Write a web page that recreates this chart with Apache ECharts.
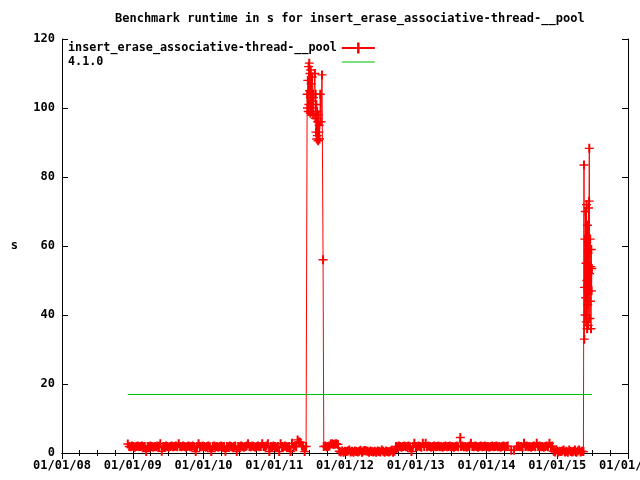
<!DOCTYPE html>
<html>
<head>
<meta charset="utf-8">
<script src="https://cdn.jsdelivr.net/npm/echarts@6/dist/echarts.min.js"></script>
<style>html,body{margin:0;padding:0;background:#fff}#c{width:640px;height:480px}</style>
</head>
<body>
<div id="c"></div>
<script>
// x = decimal year, y = runtime in s
var seriesNames = ['insert_erase_associative-thread-__pool', '4.1.0'];
var yTicks = [0, 20, 40, 60, 80, 100, 120];
var xYears = [2008, 2009, 2010, 2011, 2012, 2013, 2014, 2015, 2016];

var runsA = [
[2008.93,2.6],[2008.95,1.9],[2008.97,1.8],[2008.99,2.0],[2009.01,1.9],[2009.03,1.7],[2009.05,1.9],[2009.07,2.0],
[2009.09,1.8],[2009.11,1.9],[2009.13,2.0],[2009.15,1.8],[2009.17,1.9],[2009.19,0.4],[2009.21,1.9],[2009.23,1.8],
[2009.25,2.0],[2009.27,1.9],[2009.29,1.7],[2009.31,1.9],[2009.33,1.8],[2009.35,2.0],[2009.37,1.9],[2009.39,2.7],
[2009.41,0.5],[2009.43,1.9],[2009.45,1.8],[2009.47,2.0],[2009.49,1.9],[2009.51,1.7],[2009.53,1.9],[2009.55,2.0],
[2009.57,1.8],[2009.59,1.9],[2009.61,2.0],[2009.63,1.8],[2009.65,2.7],[2009.67,1.9],[2009.69,1.8],[2009.71,2.0],
[2009.73,1.9],[2009.75,1.7],[2009.77,1.9],[2009.79,2.0],[2009.81,1.8],[2009.83,1.9],[2009.85,2.0],[2009.87,1.8],
[2009.89,0.4],[2009.91,1.9],[2009.93,2.7],[2009.95,1.9],[2009.97,1.8],[2009.99,2.0],[2010.01,1.9],[2010.03,1.7],
[2010.05,1.9],[2010.07,2.0],[2010.09,1.8],[2010.11,0.4],[2010.13,1.9],[2010.15,2.0],[2010.17,1.8],[2010.19,1.9],
[2010.21,1.7],[2010.23,1.9],[2010.25,2.0],[2010.27,1.8],[2010.29,1.9],[2010.31,0.5],[2010.33,1.9],[2010.35,1.8],
[2010.37,2.0],[2010.39,1.9],[2010.41,1.7],[2010.43,1.9],[2010.45,2.0],[2010.47,0.4],[2010.49,1.9],[2010.51,1.8],
[2010.53,2.0],[2010.55,1.9],[2010.57,1.7],[2010.59,1.9],[2010.61,2.0],[2010.63,2.7],[2010.65,1.9],[2010.67,1.8],
[2010.69,2.0],[2010.71,1.9],[2010.73,1.7],[2010.75,1.9],[2010.77,2.0],[2010.79,1.8],[2010.81,1.9],[2010.83,2.7],
[2010.85,1.9],[2010.87,1.8],[2010.89,2.0],[2010.91,2.7],[2010.93,0.4],[2010.95,1.9],[2010.97,1.8],[2010.99,2.0],
[2011.01,1.9],[2011.03,1.7],[2011.05,1.9],[2011.07,0.4],[2011.09,2.7],[2011.11,1.9],[2011.13,1.8],[2011.15,2.0],
[2011.17,1.9],[2011.19,1.7],[2011.21,1.9],[2011.23,0.4],[2011.25,2.8],[2011.27,1.9],[2011.29,2.0],[2011.31,1.8],
[2011.33,3.8],[2011.35,3.2],[2011.37,3.1],[2011.39,2.0],[2011.41,1.9],[2011.43,0.4],[2011.45,1.9]
];

var runsSpike1 = [
[2011.465,104],[2011.470,100],[2011.475,108],[2011.480,99],[2011.485,112],[2011.490,101],[2011.495,113],
[2011.500,105],[2011.505,110],[2011.510,98.5],[2011.515,111],[2011.520,102],[2011.525,107],[2011.530,99],
[2011.535,109],[2011.540,100],[2011.545,104],[2011.550,98],[2011.555,103],[2011.575,110],[2011.580,97],
[2011.585,104],[2011.590,93],[2011.595,101],[2011.600,91],[2011.605,99],[2011.610,92],[2011.615,96],
[2011.620,90.5],[2011.625,98],[2011.630,93],[2011.635,95],[2011.640,91],[2011.650,104],[2011.660,96],
[2011.675,109.6],[2011.690,56]
];

var runsB = [
[2011.70,1.9],[2011.72,2.0],[2011.74,1.8],[2011.76,1.9],[2011.78,2.0],[2011.80,2.6],[2011.82,2.7],[2011.84,2.5],
[2011.86,2.6],[2011.88,2.7],[2011.90,2.5],[2011.92,0.5],[2011.94,0.3],[2011.96,0.6],[2011.98,0.2],[2012.00,0.5],
[2012.02,0.4],[2012.04,0.6],[2012.06,0.9],[2012.08,0.3],[2012.10,0.5],[2012.12,0.2],[2012.14,0.6],[2012.16,0.4],
[2012.18,0.3],[2012.20,0.5],[2012.22,0.8],[2012.24,0.2],[2012.26,0.6],[2012.28,0.7],[2012.30,0.6],[2012.32,0.5],
[2012.34,0.2],[2012.36,0.6],[2012.38,0.4],[2012.40,0.3],[2012.42,0.5],[2012.44,0.2],[2012.46,0.6],[2012.48,0.4],
[2012.50,0.3],[2012.52,0.9],[2012.54,0.5],[2012.56,0.2],[2012.58,0.6],[2012.60,0.4],[2012.62,0.3],[2012.64,0.5],
[2012.66,0.8],[2012.68,0.2],[2012.70,0.5],[2012.72,1.9],[2012.74,1.8],[2012.76,2.0],[2012.78,1.9],[2012.80,1.7],
[2012.82,1.9],[2012.84,2.0],[2012.86,1.8],[2012.88,1.9],[2012.90,2.0],[2012.92,1.8],[2012.94,0.4],[2012.96,1.9],
[2012.98,2.8],[2013.00,1.9],[2013.02,1.8],[2013.04,2.0],[2013.06,1.9],[2013.08,1.7],[2013.10,2.8],[2013.12,1.9],
[2013.14,2.8],[2013.16,1.8],[2013.18,2.0],[2013.20,1.9],[2013.22,1.7],[2013.24,1.9],[2013.26,2.0],[2013.28,1.8],
[2013.30,1.9],[2013.32,2.0],[2013.34,1.8],[2013.36,1.9],[2013.38,1.7],[2013.40,1.9],[2013.42,2.0],[2013.44,1.8],
[2013.46,1.9],[2013.48,2.0],[2013.50,1.8],[2013.52,1.9],[2013.54,1.7],[2013.56,1.9],[2013.58,2.0],[2013.60,1.8],
[2013.63,4.5],[2013.64,1.9],[2013.66,2.0],[2013.68,1.8],[2013.70,1.9],[2013.72,1.7],[2013.74,1.9],[2013.76,2.0],
[2013.78,2.8],[2013.80,1.9],[2013.82,1.8],[2013.84,2.0],[2013.86,1.9],[2013.88,1.7],[2013.90,1.9],[2013.92,2.0],
[2013.94,1.8],[2013.96,1.9],[2013.98,2.0],[2014.00,1.8],[2014.02,1.9],[2014.04,1.7],[2014.06,1.9],[2014.08,2.0],
[2014.10,1.8],[2014.12,1.9],[2014.14,2.0],[2014.16,1.8],[2014.18,1.9],[2014.20,1.7],[2014.22,1.9],[2014.24,2.0],
[2014.26,1.8],[2014.28,1.9],[2014.30,2.0],[2014.35,0.8],[2014.39,0.8],[2014.43,1.9],[2014.45,2.0],[2014.47,1.8],
[2014.49,1.9],[2014.51,1.7],[2014.53,2.8],[2014.55,1.9],[2014.57,2.0],[2014.59,1.8],[2014.61,1.9],[2014.63,1.7],
[2014.65,1.9],[2014.67,2.0],[2014.69,1.8],[2014.71,2.8],[2014.73,1.9],[2014.75,2.0],[2014.77,1.8],[2014.79,1.9],
[2014.81,1.7],[2014.83,1.9],[2014.85,2.0],[2014.87,1.8],[2014.89,2.8],[2014.91,1.9],[2014.93,2.0],[2014.95,0.5],
[2014.97,0.3],[2014.99,0.9],[2015.01,0.2],[2015.03,0.5],[2015.05,0.4],[2015.07,0.6],[2015.09,0.9],[2015.11,0.3],
[2015.13,0.5],[2015.15,0.2],[2015.17,0.9],[2015.19,0.4],[2015.21,0.3],[2015.23,0.5],[2015.25,0.9],[2015.27,0.2],
[2015.29,0.6],[2015.31,0.9],[2015.33,0.3],[2015.35,0.5],[2015.37,0.4]
];

var runsSpike2 = [
[2015.378,83.5],[2015.382,33],[2015.386,48],[2015.390,62],[2015.394,40],[2015.398,70],[2015.402,45],
[2015.406,55],[2015.410,38],[2015.414,72],[2015.418,50],[2015.422,36],[2015.426,66],[2015.430,43],
[2015.434,58],[2015.438,37],[2015.442,71],[2015.446,47],[2015.450,73],[2015.453,88.3],[2015.457,52],
[2015.461,39],[2015.465,62],[2015.469,44],[2015.473,54],[2015.477,36],[2015.481,59],[2015.485,47],
[2015.489,53.5]
];

var baselineX = [2008.93, 2015.49];
var baselineY = [16.96, 16.96];

var runtime = runsA.concat(runsSpike1, runsB, runsSpike2);
var baseline = baselineX.map(function (x, i) { return [x, baselineY[i]]; });

var FONT = '"DejaVu Sans Mono", "Liberation Mono", monospace';
var PLUS = 'path://M3.5,0h2v9h-2zM0,3.8h9v1.4h-9z';
var xFmt = function (v) { return '01/01/' + String(v % 100).padStart(2, '0'); };
var axisCommon = {
  axisLine: { show: true, lineStyle: { color: '#000', width: 1 } },
  splitLine: { show: false }
};

var chart = echarts.init(document.getElementById('c'), null, { renderer: 'canvas' });
chart.setOption({
  animation: false,
  backgroundColor: '#fff',
  textStyle: { fontFamily: FONT },
  title: {
    text: 'Benchmark runtime in s for insert_erase_associative-thread-__pool',
    left: 110, top: 8,
    textStyle: { fontFamily: FONT, fontWeight: 'bold', fontSize: 12, color: '#000' }
  },
  legend: {
    orient: 'vertical', left: 68, top: 42, padding: 0, itemGap: 2,
    itemWidth: 33, itemHeight: 14, align: 'right', symbolKeepAspect: true,
    data: [{ name: seriesNames[0] }, { name: seriesNames[1], icon: 'path://M0,0h33v1h-33z' }],
    formatter: function (n) { return n.padEnd(38, ' '); },
    textStyle: { fontFamily: FONT, fontWeight: 'bold', fontSize: 11.75, color: '#000' }
  },
  grid: { left: 62, right: 12, top: 39, bottom: 27, outerBoundsMode: 'none' },
  xAxis: [
    Object.assign({
      type: 'value', position: 'bottom', min: xYears[0], max: xYears[xYears.length - 1], interval: 1,
      axisTick: { show: true, inside: true, length: 6, lineStyle: { color: '#000' } },
      minorTick: { show: true, splitNumber: 4, length: 3, lineStyle: { color: '#000' } },
      axisLabel: { formatter: xFmt, margin: 7, color: '#000', fontFamily: FONT, fontWeight: 'bold', fontSize: 12, showMaxLabel: true }
    }, axisCommon),
    Object.assign({
      type: 'value', position: 'top', min: xYears[0], max: xYears[xYears.length - 1], interval: 1,
      axisTick: { show: true, inside: true, length: 6, lineStyle: { color: '#000' } },
      minorTick: { show: true, splitNumber: 4, length: 3, lineStyle: { color: '#000' } },
      axisLabel: { show: false }
    }, axisCommon)
  ],
  yAxis: [
    Object.assign({
      type: 'value', position: 'left', min: yTicks[0], max: yTicks[yTicks.length - 1], interval: 20,
      name: 's', nameLocation: 'middle', nameGap: 44, nameRotate: 0,
      nameTextStyle: { fontFamily: FONT, fontWeight: 'bold', fontSize: 12, color: '#000' },
      axisTick: { show: true, inside: true, length: 6, lineStyle: { color: '#000' } },
      axisLabel: { margin: 7, color: '#000', fontFamily: FONT, fontWeight: 'bold', fontSize: 12 }
    }, axisCommon),
    Object.assign({
      type: 'value', position: 'right', min: yTicks[0], max: yTicks[yTicks.length - 1], interval: 20,
      axisTick: { show: true, inside: true, length: 6, lineStyle: { color: '#000' } },
      axisLabel: { show: false }
    }, axisCommon)
  ],
  series: [
    {
      name: seriesNames[0], type: 'line', xAxisIndex: 0, yAxisIndex: 0,
      data: runtime, symbol: PLUS, symbolSize: 9, showAllSymbol: true, sampling: null,
      itemStyle: { color: '#ff0000' },
      lineStyle: { color: '#ff0000', width: 1 },
      emphasis: { disabled: true }
    },
    {
      name: seriesNames[1], type: 'line', xAxisIndex: 0, yAxisIndex: 0,
      data: baseline, symbol: 'none',
      itemStyle: { color: '#00c000' },
      lineStyle: { color: '#00c000', width: 1 },
      emphasis: { disabled: true }
    }
  ]
});
</script>
</body>
</html>
